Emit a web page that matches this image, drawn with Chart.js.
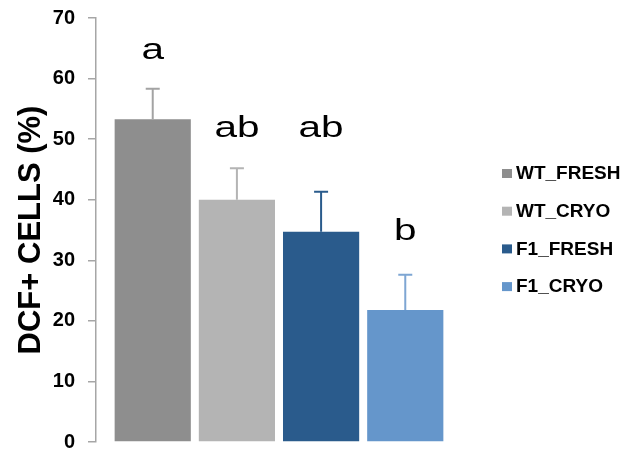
<!DOCTYPE html>
<html>
<head>
<meta charset="utf-8">
<script src="https://cdn.jsdelivr.net/npm/chart.js@4.4.1/dist/chart.umd.min.js"></script>
<style>
  html, body { margin: 0; padding: 0; background: #fff; }
  #wrap { width: 630px; height: 452px; }
</style>
</head>
<body>
<div id="wrap"><canvas id="dcfChart"></canvas></div>
<script>
const groups = ["WT_FRESH", "WT_CRYO", "F1_FRESH", "F1_CRYO"];
const means = [53.3, 40.0, 34.7, 21.8];
const errors = [5.0, 5.2, 6.6, 5.8];
const letters = ["a", "ab", "ab", "b"];
const letterAt = [63.2, 50.4, 50.4, 33.3];
const yTicks = [0, 10, 20, 30, 40, 50, 60, 70];

const barColors = ["#8e8e8e", "#b4b4b4", "#2a5b8c", "#6596cb"];
const errColors = ["#a3a3a3", "#b4b4b4", "#2a5b8c", "#7ea6d3"];

// upward-only error bars + significance letters
const errorBarsPlugin = {
  id: "errorBars",
  afterDatasetsDraw(chart) {
    const ctx = chart.ctx;
    const y = chart.scales.y;
    chart.data.datasets.forEach((ds, i) => {
      const bar = chart.getDatasetMeta(i).data[0];
      const top = y.getPixelForValue(means[i]);
      const tip = y.getPixelForValue(means[i] + errors[i]);
      ctx.save();
      ctx.strokeStyle = errColors[i];
      ctx.lineWidth = 2;
      ctx.beginPath();
      ctx.moveTo(bar.x, top);
      ctx.lineTo(bar.x, tip);
      ctx.moveTo(bar.x - 7, tip);
      ctx.lineTo(bar.x + 7, tip);
      ctx.stroke();

      ctx.fillStyle = "#000";
      ctx.font = "30px 'Liberation Sans', Arial, sans-serif";
      ctx.textAlign = "center";
      ctx.textBaseline = "alphabetic";
      ctx.translate(bar.x, y.getPixelForValue(letterAt[i]));
      ctx.scale(1.35, 1);
      ctx.fillText(letters[i], 0, 0);
      ctx.restore();
    });
  }
};

// legend drawn to the right of the plot
const sideLegend = {
  id: "sideLegend",
  afterDraw(chart) {
    const ctx = chart.ctx;
    ctx.save();
    ctx.font = "bold 19px 'Liberation Sans', Arial, sans-serif";
    ctx.textBaseline = "middle";
    chart.data.datasets.forEach((ds, i) => {
      const cy = 174 + i * 37.7;
      ctx.fillStyle = ds.backgroundColor;
      ctx.fillRect(502, cy - 5, 10, 9);
      ctx.fillStyle = "#000";
      ctx.fillText(ds.label, 516, cy);
    });
    ctx.restore();
  }
};

new Chart(document.getElementById("dcfChart"), {
  type: "bar",
  data: {
    labels: [""],
    datasets: groups.map((g, i) => ({
      label: g,
      data: [means[i]],
      backgroundColor: barColors[i]
    }))
  },
  options: {
    responsive: true,
    maintainAspectRatio: false,
    animation: false,
    categoryPercentage: 0.92,
    barPercentage: 0.905,
    layout: { padding: { top: 18, bottom: 10, left: 13, right: 168 } },
    plugins: {
      legend: { display: false },
      tooltip: { enabled: false }
    },
    scales: {
      x: { display: false },
      y: {
        min: 0,
        max: 70,
        afterBuildTicks: (axis) => { axis.ticks = yTicks.map(v => ({ value: v })); },
        afterFit: (axis) => {
          axis.width = 83;
          axis.paddingTop = 0;
          axis.paddingBottom = 0;
        },
        border: { display: true, color: "#a6a6a6", width: 1.5 },
        grid: {
          drawOnChartArea: false,
          drawTicks: true,
          tickLength: 8,
          color: "#a6a6a6",
          lineWidth: 1.5
        },
        ticks: {
          padding: 13,
          color: "#000",
          font: { family: "'Liberation Sans', Arial, sans-serif", size: 20, weight: "bold" }
        },
        title: {
          display: true,
          text: "DCF+ CELLS (%)",
          color: "#000",
          padding: { top: 0, bottom: 2 },
          font: { family: "'Liberation Sans', Arial, sans-serif", size: 31, weight: "bold" }
        }
      }
    }
  },
  plugins: [errorBarsPlugin, sideLegend]
});
</script>
</body>
</html>
